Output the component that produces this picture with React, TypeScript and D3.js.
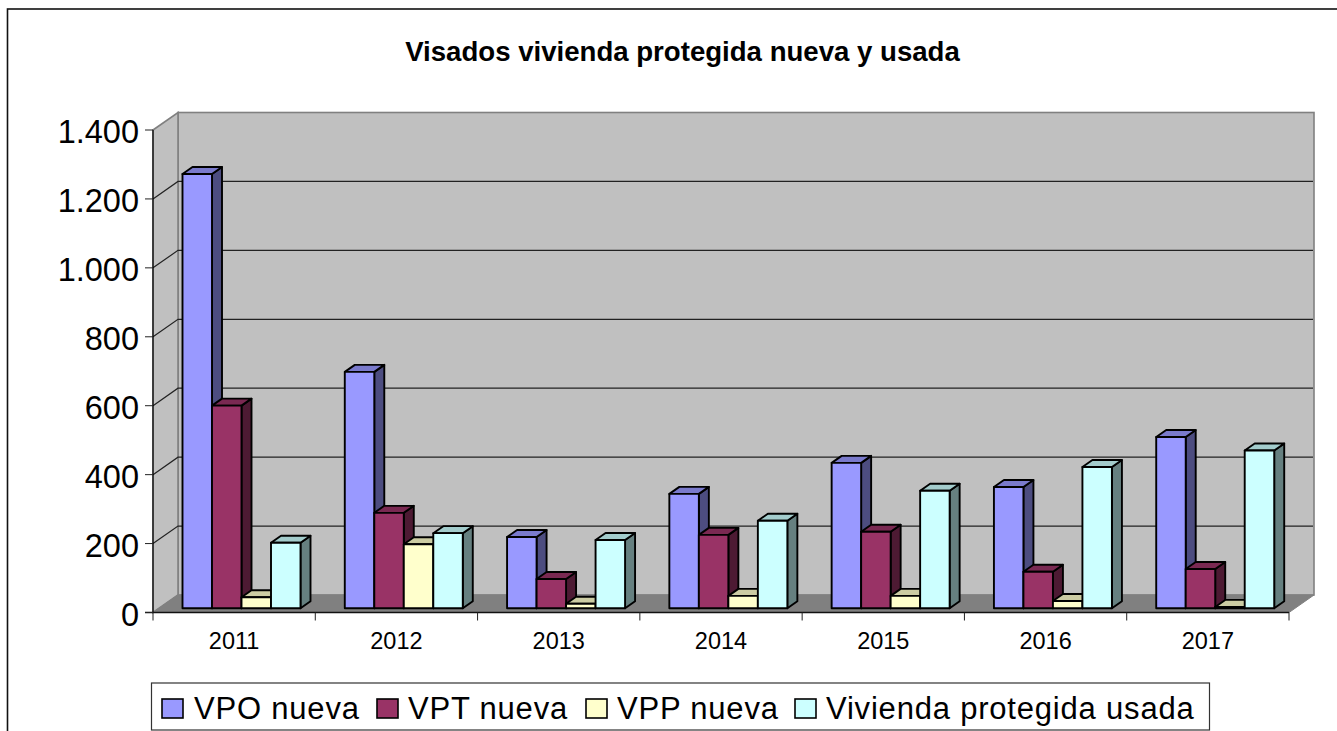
import React from "react";
import * as d3 from "d3";

const years = ["2011", "2012", "2013", "2014", "2015", "2016", "2017"];
const vpoNueva = [1260, 686, 207, 332, 422, 352, 497];
const vptNueva = [588, 277, 85, 213, 222, 106, 114];
const vppNueva = [32, 186, 13, 36, 36, 21, 4];
const usada = [190, 218, 198, 254, 341, 410, 458];
const yTicks = [0, 200, 400, 600, 800, 1000, 1200, 1400];
const seriesNames = ["VPO nueva", "VPT nueva", "VPP nueva", "Vivienda protegida usada"];
const seriesFill = ["#9999ff", "#993366", "#ffffcc", "#ccffff"];
const seriesTop = ["#7a7acc", "#7a2952", "#cccca3", "#a3cccc"];
const seriesSide = ["#4d4d80", "#4d1a33", "#808066", "#668080"];
const seriesValues = [vpoNueva, vptNueva, vppNueva, usada];
const title = "Visados vivienda protegida nueva y usada";

const FONT = "'Liberation Sans', Arial, sans-serif";
const fmt = (v: number) => (v >= 1000 ? `${Math.floor(v / 1000)}.${String(v % 1000).padStart(3, "0")}` : String(v));

export default function App() {
  const x0 = 153, x1 = 1289, yBase = 612.5, yTop = 130;
  const wallDx = 25, wallDy = -17.5;
  const barDx = 5.5, barDy = -4.2, sideDx = 10, sideDy = -7;

  const y = d3.scaleLinear().domain([0, 1400]).range([yBase, yTop]);
  const xCat = d3.scaleBand<string>().domain(years).range([x0, x1]);
  const xSer = d3.scaleBand<number>().domain([0, 1, 2, 3]).range([24, 142]);

  const wallPts = (pts: [number, number][]) => pts.map((p) => p.join(",")).join(" ");

  return (
    <svg width={1337} height={731} style={{ position: "absolute", left: 0, top: 0, background: "#fff", fontFamily: FONT }}>
      <rect x={7.5} y={9} width={1345} height={740} fill="#fff" stroke="#111" strokeWidth={1.6} />
      <text x={682.5} y={61} textAnchor="middle" fontSize={27.6} fontWeight={700} fill="#000">{title}</text>

      {/* Back wall, side wall, floor */}
      <rect x={x0 + wallDx} y={yTop + wallDy} width={x1 - x0} height={yBase - yTop} fill="#c0c0c0" stroke="#808080" strokeWidth={1.6} />
      <polygon points={wallPts([[x0, yTop], [x0 + wallDx, yTop + wallDy], [x0 + wallDx, yBase + wallDy], [x0, yBase]])} fill="#c0c0c0" stroke="#808080" strokeWidth={1.6} />
      <polygon points={wallPts([[x0, yBase], [x0 + wallDx, yBase + wallDy], [x1 + wallDx, yBase + wallDy], [x1, yBase]])} fill="#808080" stroke="#808080" />

      {/* Gridlines */}
      {yTicks.filter((t) => t > 0 && t < 1400).map((t) => (
        <polyline key={t} points={wallPts([[x0, y(t)], [x0 + wallDx, y(t) + wallDy], [x1 + wallDx - 1, y(t) + wallDy]])} fill="none" stroke="#222" strokeWidth={1.2} />
      ))}

      {/* Axes */}
      <line x1={x0} x2={x0} y1={yTop} y2={yBase} stroke="#000" strokeWidth={1.2} />
      <line x1={x0 - 8} x2={x1} y1={yBase} y2={yBase} stroke="#111" strokeWidth={1.5} />
      {yTicks.map((t) => (
        <g key={t}>
          <line x1={x0 - 8} x2={x0} y1={y(t)} y2={y(t)} stroke="#222" strokeWidth={1} />
          <text x={139} y={y(t) + 13} textAnchor="end" fontSize={32.5} fill="#000">{fmt(t)}</text>
        </g>
      ))}
      {[...years.map((c) => xCat(c)!), x1].map((px, i) => (
        <line key={i} x1={px} x2={px} y1={yBase} y2={yBase + 8} stroke="#222" strokeWidth={1} />
      ))}
      {years.map((c) => (
        <text key={c} x={xCat(c)! + xCat.bandwidth() / 2} y={649} textAnchor="middle" fontSize={23.5} fill="#000">{c}</text>
      ))}

      {/* Bars, drawn back to front by series order */}
      {years.map((c, i) => (
        <g key={c}>
          {seriesValues.map((vals, s) => {
            const l = xCat(c)! + barDx + xSer(s)!;
            const r = l + xSer.bandwidth();
            const b = y(0) + barDy;
            const t = y(vals[i]) + barDy;
            const stroke = { stroke: "#000", strokeWidth: 1.9, strokeLinejoin: "round" as const };
            return (
              <g key={s}>
                <polygon points={wallPts([[r, t], [r + sideDx, t + sideDy], [r + sideDx, b + sideDy], [r, b]])} fill={seriesSide[s]} {...stroke} />
                <polygon points={wallPts([[l, t], [l + sideDx, t + sideDy], [r + sideDx, t + sideDy], [r, t]])} fill={seriesTop[s]} {...stroke} />
                <rect x={l} y={t} width={r - l} height={b - t} fill={seriesFill[s]} {...stroke} />
              </g>
            );
          })}
        </g>
      ))}

      {/* Legend */}
      <rect x={151.5} y={683} width={1058} height={47} fill="#fff" stroke="#333" strokeWidth={1.2} />
      {seriesNames.map((n, i) => {
        const sw = [162, 377, 586, 795][i];
        return (
          <g key={n}>
            <rect x={sw} y={699} width={21} height={19} fill={seriesFill[i]} stroke="#000" strokeWidth={1.6} />
            <text x={[194, 408, 617, 826][i]} y={719} fontSize={31} letterSpacing={0.8} fill="#000">{n}</text>
          </g>
        );
      })}
    </svg>
  );
}
